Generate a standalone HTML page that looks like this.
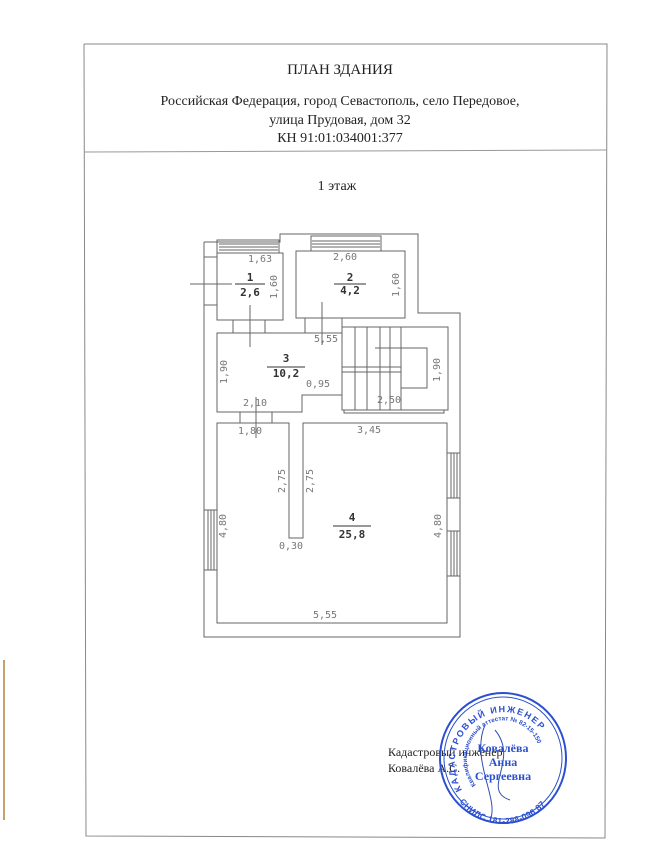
<!DOCTYPE html>
<html><head><meta charset="utf-8"><style>
html,body{margin:0;padding:0;background:#fff;}
svg{display:block;}
.m{font-family:"DejaVu Sans Mono","Liberation Mono",monospace;font-size:10px;fill:#777;}
.b{font-family:"DejaVu Sans Mono","Liberation Mono",monospace;font-size:11px;font-weight:bold;fill:#333;}
.s{font-family:"Liberation Serif",serif;fill:#222;}
</style></head><body>
<svg width="650" height="848" viewBox="0 0 650 848" xmlns="http://www.w3.org/2000/svg">
<rect width="650" height="848" fill="#fff"/>
<line x1="4" y1="660" x2="4" y2="820" stroke="#c9a070" stroke-width="2"/>
<polyline points="84,44 607,44 605,838 86,836 84,44" fill="none" stroke="#888" stroke-width="1"/>
<line x1="84" y1="152" x2="607" y2="150" stroke="#999" stroke-width="1"/>
<text class="s" x="340" y="74" font-size="15" text-anchor="middle">ПЛАН ЗДАНИЯ</text>
<text class="s" x="340" y="105" font-size="14" text-anchor="middle">Российская Федерация, город Севастополь, село Передовое,</text>
<text class="s" x="340" y="124" font-size="14" text-anchor="middle">улица Прудовая, дом 32</text>
<text class="s" x="340" y="142" font-size="14" text-anchor="middle">КН 91:01:034001:377</text>
<text class="s" x="337" y="190" font-size="14" text-anchor="middle">1 этаж</text>

<g fill="none" stroke="#666" stroke-width="1">
<polyline points="204,242 280,242 280,234 418,234 418,313 460,313 460,637 204,637 204,242"/>
<rect x="217" y="253" width="66" height="67"/>
<rect x="217" y="240" width="62" height="13"/>
<line x1="219" y1="244" x2="278" y2="244"/><line x1="219" y1="247" x2="278" y2="247"/><line x1="219" y1="250" x2="278" y2="250"/>
<line x1="204" y1="257" x2="217" y2="257"/><line x1="204" y1="305" x2="217" y2="305"/>
<rect x="296" y="251" width="109" height="67"/>
<rect x="311" y="236" width="70" height="15"/>
<line x1="312" y1="241" x2="380" y2="241"/><line x1="312" y1="244" x2="380" y2="244"/><line x1="312" y1="247" x2="380" y2="247"/>
<rect x="233" y="320" width="32" height="13"/>
<rect x="305" y="318" width="37" height="15"/>
<polygon points="217,333 342,333 342,395 302,395 302,412 217,412"/>
<rect x="342" y="327" width="106" height="83"/>
<line x1="355" y1="327" x2="355" y2="410"/><line x1="367" y1="327" x2="367" y2="410"/>
<line x1="380" y1="327" x2="380" y2="410"/><line x1="390" y1="327" x2="390" y2="410"/>
<line x1="401" y1="327" x2="401" y2="410"/>
<line x1="342" y1="367" x2="401" y2="367"/><line x1="342" y1="372" x2="401" y2="372"/>
<polyline points="375,348 427,348 427,388 401,388"/>
<rect x="240" y="412" width="32" height="11"/>
<rect x="344" y="410" width="100" height="3"/>
<polygon points="217,423 289,423 289,538 303,538 303,423 447,423 447,623 217,623"/>
<rect x="204" y="510" width="13" height="60"/>
<line x1="208" y1="510" x2="208" y2="570"/><line x1="211" y1="510" x2="211" y2="570"/><line x1="214" y1="510" x2="214" y2="570"/>
<rect x="447" y="453" width="13" height="45"/>
<line x1="451" y1="453" x2="451" y2="498"/><line x1="454" y1="453" x2="454" y2="498"/><line x1="457" y1="453" x2="457" y2="498"/>
<rect x="447" y="531" width="13" height="45"/>
<line x1="451" y1="531" x2="451" y2="576"/><line x1="454" y1="531" x2="454" y2="576"/><line x1="457" y1="531" x2="457" y2="576"/>
<line x1="190" y1="284" x2="232" y2="284"/>
<line x1="250" y1="305" x2="250" y2="347"/>
<line x1="322" y1="302" x2="322" y2="345"/>
<line x1="256" y1="397" x2="256" y2="438"/>
</g>
<g stroke="#333" stroke-width="1">
<line x1="235" y1="284" x2="265" y2="284"/>
<line x1="334" y1="284" x2="366" y2="284"/>
<line x1="267" y1="367" x2="305" y2="367"/>
<line x1="333" y1="526" x2="371" y2="526"/>
</g>
<text class="m" x="248" y="262">1,63</text>
<text class="b" x="250" y="281" text-anchor="middle">1</text>
<text class="b" x="250" y="296" text-anchor="middle">2,6</text>
<text class="m" transform="translate(277,287) rotate(-90)" text-anchor="middle">1,60</text>
<text class="m" x="333" y="260">2,60</text>
<text class="b" x="350" y="281" text-anchor="middle">2</text>
<text class="b" x="350" y="294" text-anchor="middle">4,2</text>
<text class="m" transform="translate(399,285) rotate(-90)" text-anchor="middle">1,60</text>
<text class="m" x="314" y="342">5,55</text>
<text class="b" x="286" y="362" text-anchor="middle">3</text>
<text class="b" x="286" y="377" text-anchor="middle">10,2</text>
<text class="m" transform="translate(227,372) rotate(-90)" text-anchor="middle">1,90</text>
<text class="m" x="306" y="387">0,95</text>
<text class="m" x="243" y="406">2,10</text>
<text class="m" x="377" y="403">2,50</text>
<text class="m" transform="translate(440,370) rotate(-90)" text-anchor="middle">1,90</text>
<text class="m" x="238" y="434">1,80</text>
<text class="m" x="357" y="433">3,45</text>
<text class="m" transform="translate(285,481) rotate(-90)" text-anchor="middle">2,75</text>
<text class="m" transform="translate(313,481) rotate(-90)" text-anchor="middle">2,75</text>
<text class="m" transform="translate(226,526) rotate(-90)" text-anchor="middle">4,80</text>
<text class="m" transform="translate(441,526) rotate(-90)" text-anchor="middle">4,80</text>
<text class="b" x="352" y="521" text-anchor="middle">4</text>
<text class="b" x="352" y="538" text-anchor="middle">25,8</text>
<text class="m" x="279" y="549">0,30</text>
<text class="m" x="313" y="618">5,55</text>

<text class="s" x="388" y="756" font-size="12">Кадастровый инженер</text>
<text class="s" x="388" y="772" font-size="12">Ковалёва А.С.</text>
<g fill="none" stroke="#2a4fd0">
<ellipse cx="503" cy="758" rx="63" ry="65" stroke-width="2"/>
<ellipse cx="503" cy="758" rx="59" ry="61" stroke-width="1"/>
<path d="M485,725 C470,760 500,800 490,820 M495,730 C520,760 480,790 510,800" stroke="#3050b0" stroke-width="1"/>
</g>
<defs>
<path id="arcT" d="M462,790 A49,51 0 1 1 548,785"/>
<path id="arcB" d="M455,795 A56,58 0 0 0 553,793"/>
<path id="arcI" d="M476,785 A37,39 0 1 1 530,787"/>
</defs>
<g font-family="Liberation Sans,sans-serif" fill="#2a4fd0" font-weight="bold">
<text font-size="9" letter-spacing="1.6"><textPath href="#arcT">КАДАСТРОВЫЙ ИНЖЕНЕР</textPath></text>
<text font-size="8.5" letter-spacing="0.3"><textPath href="#arcB" startOffset="8">СНИЛС 181-288-096 87</textPath></text>
<text font-size="6.3"><textPath href="#arcI">Квалификационный аттестат № 82-15-150</textPath></text>
<text x="503" y="752" font-size="12" text-anchor="middle" font-family="Liberation Serif,serif">Ковалёва</text>
<text x="503" y="766" font-size="12" text-anchor="middle" font-family="Liberation Serif,serif">Анна</text>
<text x="503" y="780" font-size="12" text-anchor="middle" font-family="Liberation Serif,serif">Сергеевна</text>
</g>
</svg>
</body></html>
